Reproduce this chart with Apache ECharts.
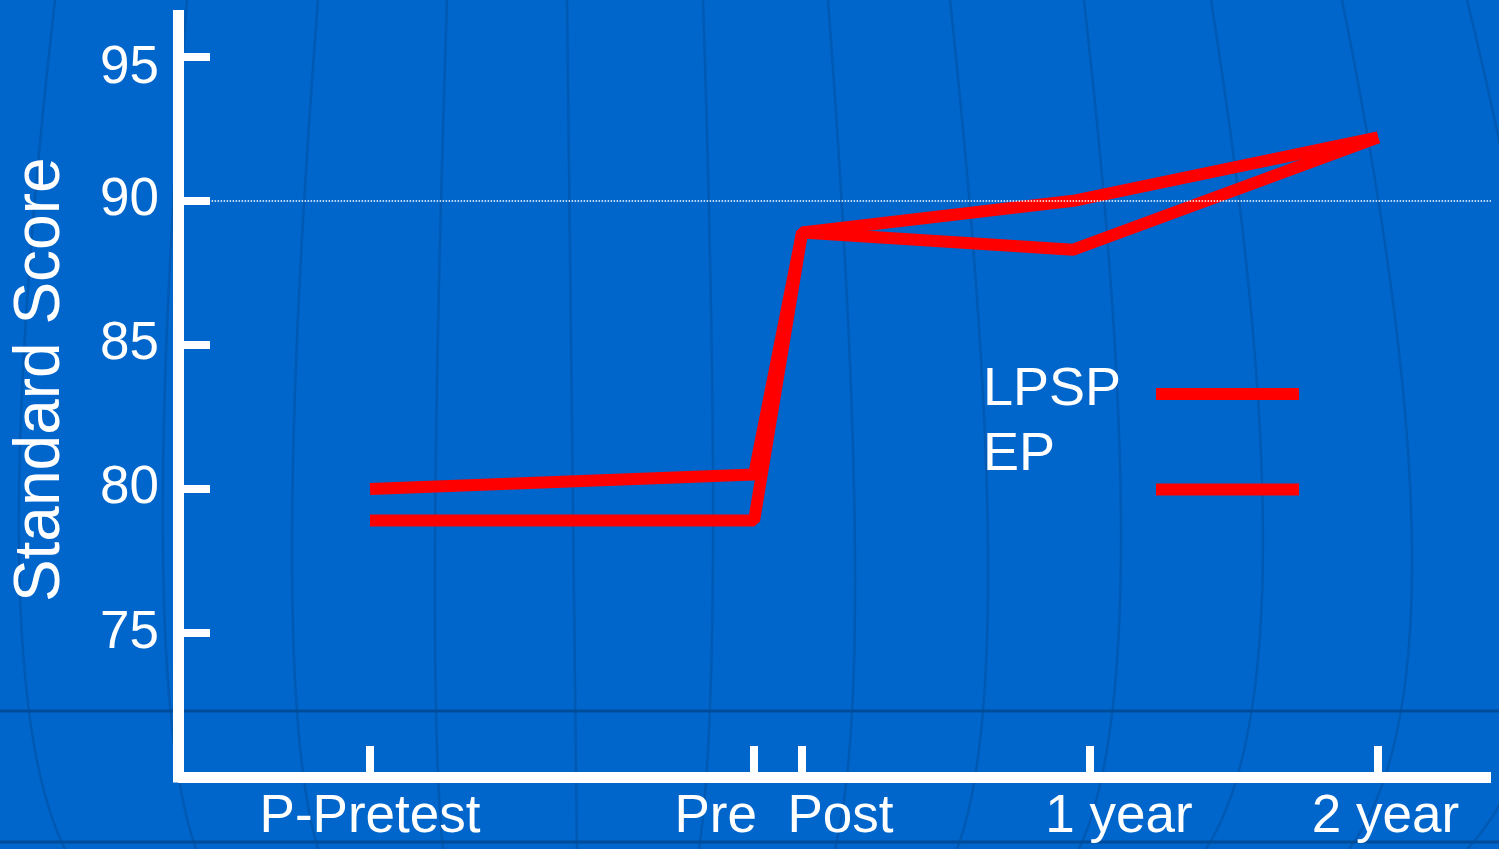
<!DOCTYPE html>
<html>
<head>
<meta charset="utf-8">
<script src="https://cdn.jsdelivr.net/npm/echarts@6/dist/echarts.min.js"></script>
<style>
  html, body { margin: 0; padding: 0; background: #0066CC; }
  #chart { width: 1499px; height: 849px; }
</style>
</head>
<body>
<div id="chart"></div>
<script>
// time points in months relative to Post
const tickMonths = [-18, -2, 0, 12, 24];
const tickLabels = ['P-Pretest', 'Pre', 'Post', '1 year', '2 year'];
const labelMonths = [-18, -3.6, 1.6, 13.2, 24.3];
const pointMonths = [-18, -2, 0, 11.3, 24];
const yTicks = [75, 80, 85, 90, 95];
const yLabelValues = [75, 80, 85, 90, 94.6];
const yLabelTexts = ['75', '80', '85', '90', '95'];

const seriesNames = ['LPSP', 'EP'];
const lpspScores = [80.0, 80.5, 88.9, 90.0, 92.2];
const epScores = [78.9, 78.9, 88.9, 88.3, 92.2];

const refLine = 90;

const myChart = echarts.init(document.getElementById('chart'));

const FontColor = '#FFFFFF';
const lineColor = '#FF0000';
const fontFamily = 'Liberation Sans, Arial, sans-serif';

// faint globe-like background lines
const meridianTop = [55, 187, 318, 447, 567, 703, 828, 950, 1084, 1211, 1342, 1467];
const meridianMid = [19, 163, 292, 435, 574, 713, 855, 988, 1121, 1263, 1412, 1550];
const meridianBot = [65, 196, 318, 443, 577, 699, 835, 957, 1079, 1206, 1349, 1467];

const graphics = meridianTop.map((xt, i) => ({
  type: 'bezierCurve',
  z: -10,
  silent: true,
  shape: {
    x1: xt, y1: 0,
    x2: meridianBot[i], y2: 849,
    cpx1: 2 * meridianMid[i] - 0.5 * (xt + meridianBot[i]),
    cpy1: 676
  },
  style: { stroke: '#0059B3', lineWidth: 2.5, fill: null }
}));
[711, 842].forEach(y => {
  graphics.push({
    type: 'line',
    z: -10,
    silent: true,
    shape: { x1: 0, y1: y, x2: 1499, y2: y },
    style: { stroke: '#004C99', lineWidth: 3 }
  });
});

// legend: text on the left, swatch on the right
const legendRows = [
  { textTop: 363, swatchY: 388 },
  { textTop: 428, swatchY: 483.5 }
];
seriesNames.forEach((name, i) => {
  graphics.push({
    type: 'text',
    silent: true,
    left: 983,
    top: legendRows[i].textTop,
    style: { text: name, fill: FontColor, font: '54px ' + fontFamily }
  });
  graphics.push({
    type: 'rect',
    silent: true,
    shape: { x: 1156, y: legendRows[i].swatchY, width: 143, height: 12 },
    style: { fill: lineColor }
  });
});

const toPairs = (xs, ys) => xs.map((x, i) => [x, ys[i]]);

const option = {
  backgroundColor: '#0066CC',
  animation: false,
  graphic: graphics,
  grid: {
    left: 178,
    right: 8,
    top: 15.5,
    bottom: 72
  },
  xAxis: {
    type: 'value',
    min: -26,
    max: 28.7,
    axisLine: { show: true, onZero: false, lineStyle: { color: '#FFFFFF', width: 11, cap: 'butt' } },
    axisTick: {
      show: true,
      inside: true,
      length: 31,
      customValues: tickMonths,
      lineStyle: { color: '#FFFFFF', width: 8 }
    },
    axisLabel: {
      show: true,
      customValues: labelMonths,
      formatter: v => tickLabels[labelMonths.indexOf(v)] || '',
      color: FontColor,
      fontSize: 53,
      fontFamily,
      margin: 14
    },
    splitLine: { show: false }
  },
  yAxis: {
    type: 'value',
    min: 70,
    max: 96.43,
    name: 'Standard Score',
    nameLocation: 'middle',
    nameRotate: 90,
    nameGap: 105,
    nameTextStyle: { color: FontColor, fontSize: 64, fontFamily, padding: [0, 0, 0, 33] },
    axisLine: { show: true, onZero: false, lineStyle: { color: '#FFFFFF', width: 11, cap: 'square' } },
    axisTick: {
      show: true,
      inside: true,
      length: 32,
      customValues: yTicks,
      lineStyle: { color: '#FFFFFF', width: 8 }
    },
    axisLabel: {
      show: true,
      customValues: yLabelValues,
      formatter: v => yLabelTexts[yLabelValues.indexOf(v)] || '',
      color: FontColor,
      fontSize: 53,
      fontFamily,
      margin: 19
    },
    splitLine: { show: false }
  },
  series: [
    {
      name: seriesNames[0],
      type: 'line',
      data: toPairs(pointMonths, lpspScores),
      symbol: 'none',
      itemStyle: { color: lineColor },
      lineStyle: { color: lineColor, width: 12 },
      markLine: {
        silent: true,
        symbol: 'none',
        label: { show: false },
        lineStyle: { color: '#FFFFFF', type: 'dotted', width: 1.5 },
        data: [[{ coord: [-24.6, refLine] }, { coord: [28.7, refLine] }]]
      },
      z: 3
    },
    {
      name: seriesNames[1],
      type: 'line',
      data: toPairs(pointMonths, epScores),
      symbol: 'none',
      itemStyle: { color: lineColor },
      lineStyle: { color: lineColor, width: 12 },
      z: 3
    }
  ]
};

myChart.setOption(option);
</script>
</body>
</html>
